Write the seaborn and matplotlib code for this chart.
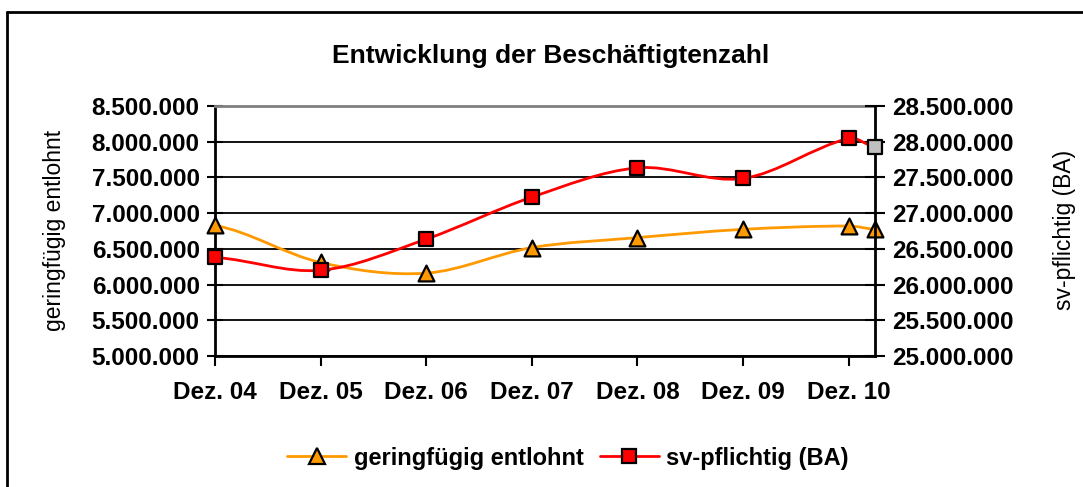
import numpy as np
import matplotlib
matplotlib.use("Agg")
import matplotlib.pyplot as plt
import seaborn as sns
from matplotlib.path import Path
from matplotlib.patches import PathPatch
from matplotlib.lines import Line2D
from matplotlib.ticker import FuncFormatter

# Daten (Monate seit Dez. 04, letzter Wert = aktueller Stand)
monate = [0, 12, 24, 36, 48, 60, 72, 75]
kategorien = ["Dez. 04", "Dez. 05", "Dez. 06", "Dez. 07", "Dez. 08", "Dez. 09", "Dez. 10"]
geringfuegig = [6828000, 6309000, 6160000, 6517000, 6657000, 6773000, 6820000, 6775000]
sv_pflichtig = [26380000, 26200000, 26636000, 27224000, 27634000, 27486000, 28046000, 27926000]

ORANGE = "#FF9900"
ROT = "#FF0000"
GRAU = "#C0C0C0"

sns.set_style("white")
plt.rcParams['font.family'] = ['Liberation Sans', 'DejaVu Sans']
plt.rcParams['text.color'] = 'black'
plt.rcParams['axes.labelcolor'] = 'black'
plt.rcParams['xtick.color'] = 'black'
plt.rcParams['ytick.color'] = 'black'


def glatte_linie(xs, ys):
    # Excel-artige Glaettung: kubische Bezier-Segmente (Catmull-Rom)
    xs = np.asarray(xs, float)
    ys = np.asarray(ys, float)
    n = len(xs)
    m = np.zeros(n)
    for i in range(n):
        i0 = max(i - 1, 0)
        i1 = min(i + 1, n - 1)
        m[i] = (ys[i1] - ys[i0]) / (xs[i1] - xs[i0])
        if i == 0 or i == n - 1:
            m[i] = m[i] / 2
    verts = [(xs[0], ys[0])]
    codes = [Path.MOVETO]
    for i in range(n - 1):
        dx = xs[i + 1] - xs[i]
        verts += [(xs[i] + dx / 3, ys[i] + m[i] * dx / 3),
                  (xs[i + 1] - dx / 3, ys[i + 1] - m[i + 1] * dx / 3),
                  (xs[i + 1], ys[i + 1])]
        codes += [Path.CURVE4] * 3
    return Path(verts, codes)


def de_format(v, pos):
    return f"{v:,.0f}".replace(",", ".")


fig = plt.figure(figsize=(10.83, 4.87), dpi=100)
ax = fig.add_axes([215 / 1083, 1 - 356 / 487, 660 / 1083, 250 / 487])
ax2 = ax.twinx()

# linke Achse: geringfuegig entlohnt
ax.add_patch(PathPatch(glatte_linie(monate, geringfuegig), facecolor="none",
                       edgecolor=ORANGE, lw=2, zorder=3))
sns.scatterplot(x=monate, y=geringfuegig, ax=ax, marker="^", s=130, color=ORANGE,
                edgecolor="black", linewidth=1.6, zorder=4, clip_on=False)

# rechte Achse: sv-pflichtig
ax2.add_patch(PathPatch(glatte_linie(monate, sv_pflichtig), facecolor="none",
                        edgecolor=ROT, lw=2, zorder=3))
farben = [ROT] * (len(monate) - 1) + [GRAU]
sns.scatterplot(x=monate, y=sv_pflichtig, ax=ax2, marker="s", s=100, c=farben,
                edgecolor="black", linewidth=1.6, zorder=4, clip_on=False)

ax.set_xlim(0, 75)
ax.set_ylim(5000000, 8500000)
ax2.set_ylim(25000000, 28500000)
ax.set_yticks(np.arange(5000000, 8500001, 500000))
ax2.set_yticks(np.arange(25000000, 28500001, 500000))
ax.set_xticks(monate[:len(kategorien)])
ax.set_xticklabels(kategorien)
ax.yaxis.set_major_formatter(FuncFormatter(de_format))
ax2.yaxis.set_major_formatter(FuncFormatter(de_format))

ax.yaxis.grid(True, color="black", lw=1.3)
ax.get_ygridlines()[-1].set_visible(False)
ax.set_axisbelow(True)

for sp in ["left", "bottom"]:
    ax.spines[sp].set_color("black")
    ax.spines[sp].set_linewidth(2)
ax.spines["top"].set_color("#808080")
ax.spines["top"].set_linewidth(2)
ax.spines["right"].set_visible(False)
for sp in ["left", "bottom", "top"]:
    ax2.spines[sp].set_visible(False)
ax2.spines["right"].set_color("black")
ax2.spines["right"].set_linewidth(2)

ax.tick_params(axis="y", direction="inout", length=12, width=1.5, pad=5,
               labelsize=17.5, left=True, colors="black")
ax2.tick_params(axis="y", direction="inout", length=14, width=1.5, pad=5,
                labelsize=17.5, right=True, colors="black")
ax.tick_params(axis="x", direction="out", length=7, width=1.5, pad=11,
               labelsize=17.5, bottom=True, colors="black")
for lab in ax.get_yticklabels() + ax.get_xticklabels() + ax2.get_yticklabels():
    lab.set_fontweight("bold")

ax.set_ylabel("geringfügig entlohnt", fontsize=16.5, color="black")
ax.yaxis.set_label_coords(-0.226, 0.504)
ax2.set_ylabel("sv-pflichtig (BA)", fontsize=16.5, rotation=90, color="black")
ax2.yaxis.set_label_coords(1.270, 0.504)

fig.text(551 / 1083, 1 - 56 / 487, "Entwicklung der Beschäftigtenzahl",
         ha="center", va="center", fontsize=19, fontweight="bold", color="black")

handles = [
    Line2D([], [], color=ORANGE, lw=2, marker="^", markersize=11.5,
           markerfacecolor=ORANGE, markeredgecolor="black", markeredgewidth=1.6),
    Line2D([], [], color=ROT, lw=2, marker="s", markersize=10,
           markerfacecolor=ROT, markeredgecolor="black", markeredgewidth=1.6),
]
fig.legend(handles, ["geringfügig entlohnt", "sv-pflichtig (BA)"], loc="center",
           bbox_to_anchor=(568 / 1083, 1 - 458 / 487), ncol=2, frameon=False,
           prop={"weight": "bold", "size": 17}, handlelength=2.5,
           handletextpad=0.3, columnspacing=0.7, labelcolor="black")

# Rahmen um das Diagramm
fig.add_artist(Line2D([7 / 1083, 7 / 1083], [0, 1 - 11.5 / 487], color="black",
                      lw=2, transform=fig.transFigure))
fig.add_artist(Line2D([7 / 1083, 1], [1 - 11.5 / 487, 1 - 11.5 / 487], color="black",
                      lw=2, transform=fig.transFigure))

fig.savefig("out.png", dpi=100, facecolor="white")
